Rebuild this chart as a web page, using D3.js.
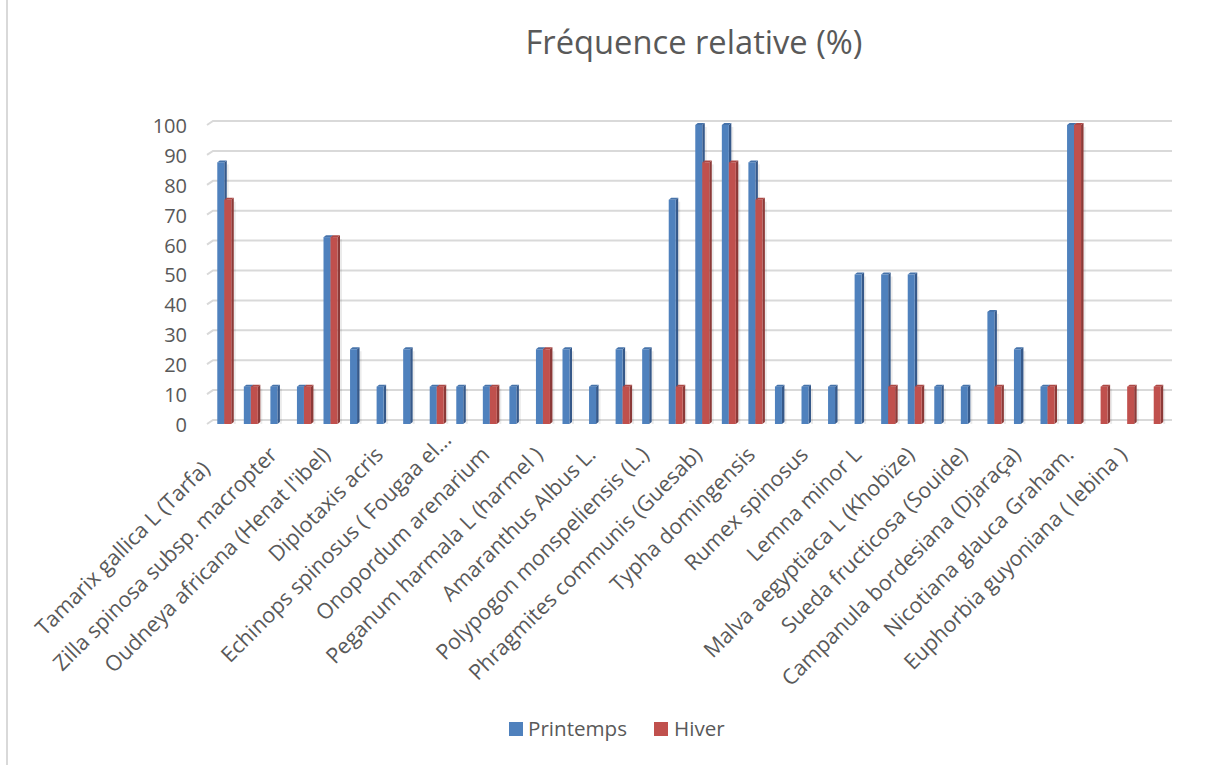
<!DOCTYPE html>
<html>
<head>
<meta charset="utf-8">
<script src="https://cdnjs.cloudflare.com/ajax/libs/d3/7.8.5/d3.min.js"></script>
<style>
  html, body { margin: 0; padding: 0; background: #ffffff; }
  svg { display: block; }
  text { font-family: "Open Sans", "Noto Sans", sans-serif; fill: #595959; }
</style>
</head>
<body>
<svg id="chart" width="1213" height="765"></svg>
<script>
// ---------------- data ----------------
const title = "Fréquence relative (%)";
// 36 categories; Excel shows only every other label (hidden ones are unknown -> empty)
const categories = [
  "Tamarix gallica L (Tarfa)", "",
  "Zilla spinosa subsp. macropter", "",
  "Oudneya africana (Henat l'ibel)", "",
  "Diplotaxis acris", "",
  "Echinops spinosus ( Fougaa el…", "",
  "Onopordum arenarium", "",
  "Peganum harmala L (harmel )", "",
  "Amaranthus Albus L.", "",
  "Polypogon monspeliensis (L.)", "",
  "Phragmites communis (Guesab)", "",
  "Typha domingensis", "",
  "Rumex spinosus", "",
  "Lemna minor L", "",
  "Malva aegyptiaca L (Khobïze)", "",
  "Sueda fructicosa (Souide)", "",
  "Campanula bordesiana (Djaraça)", "",
  "Nicotiana glauca Graham.", "",
  "Euphorbia guyoniana ( lebina )", ""
];
const seriesNames = ["Printemps", "Hiver"];
const printemps = [87.5, 12.5, 12.5, 12.5, 62.5, 25, 12.5, 25, 12.5, 12.5, 12.5, 12.5,
                   25, 25, 12.5, 25, 25, 75, 100, 100, 87.5, 12.5, 12.5, 12.5,
                   50, 50, 50, 12.5, 12.5, 37.5, 25, 12.5, 100, 0, 0, 0];
const hiver     = [75, 12.5, 0, 12.5, 62.5, 0, 0, 0, 12.5, 0, 12.5, 0,
                   25, 0, 0, 12.5, 0, 12.5, 87.5, 87.5, 75, 0, 0, 0,
                   0, 12.5, 12.5, 0, 0, 12.5, 0, 12.5, 100, 12.5, 12.5, 12.5];
const yTicks = [0, 10, 20, 30, 40, 50, 60, 70, 80, 90, 100];

// ---------------- styling ----------------
const colors = {
  Printemps: { front: "#4f81bd", side: "#36598a", top: "#4673aa" },
  Hiver:     { front: "#c0504d", side: "#8c3a38", top: "#ad4845" }
};
const svg = d3.select("#chart");
svg.append("rect").attr("width", 1213).attr("height", 765).attr("fill", "#fff");
// chart-area border (only left edge visible)
svg.append("line").attr("x1", 7).attr("x2", 7).attr("y1", 0).attr("y2", 765)
  .attr("stroke", "#d9d9d9").attr("stroke-width", 2);

const depth = { dx: 6, dy: -4 };       // back-wall offset for gridlines
const barDepth = { dx: 2.5, dy: -2 };  // bar side/top thickness

const x = d3.scaleBand().domain(d3.range(categories.length)).range([211, 1167]).padding(0);
const y = d3.scaleLinear().domain([0, 100]).range([424, 125]);
const plotLeft = 207, plotRight = 1172;

// title
svg.append("text").attr("x", 694).attr("y", 54).attr("text-anchor", "middle")
  .style("font-size", "32.7px").text(title);

// gridlines (3D style: small diagonal + back horizontal line)
const grid = svg.append("g");
yTicks.forEach(t => {
  const yy = y(t);
  grid.append("path")
    .attr("d", `M${plotLeft},${yy} L${plotLeft + depth.dx},${yy + depth.dy} L${plotRight},${yy + depth.dy}`)
    .attr("fill", "none").attr("stroke", "#d9d9d9").attr("stroke-width", 2);
});

// y axis labels via d3 axis
const yAxis = d3.axisLeft(y).tickValues(yTicks).tickSize(0).tickPadding(0);
const yg = svg.append("g").attr("transform", "translate(187,1)").call(yAxis);
yg.select(".domain").remove();
yg.selectAll("text").style("font-size", "20px").attr("fill", "#595959")
  .style("font-family", '"Open Sans", sans-serif');

// bars
const barW = 7;
const series = [
  { name: "Printemps", values: printemps, off: -7 },
  { name: "Hiver", values: hiver, off: 0 }
];
const bars = svg.append("g");
categories.forEach((c, i) => {
  const cx = x(i) + x.bandwidth() / 2;
  series.forEach(s => {
    const v = s.values[i];
    if (!v) return;
    const x0 = cx + s.off, x1 = x0 + barW;
    const yt = y(v), yb = y(0);
    const col = colors[s.name];
    const g = bars.append("g");
    // soft shadow
    g.append("rect").attr("x", x1 + barDepth.dx).attr("y", yt + 2)
      .attr("width", 2).attr("height", yb - yt - 2).attr("fill", "#000").attr("opacity", 0.08);
    // side
    g.append("path").attr("d",
      `M${x1},${yt} L${x1 + barDepth.dx},${yt + barDepth.dy} L${x1 + barDepth.dx},${yb + barDepth.dy} L${x1},${yb} Z`)
      .attr("fill", col.side);
    // top
    g.append("path").attr("d",
      `M${x0},${yt} L${x0 + barDepth.dx},${yt + barDepth.dy} L${x1 + barDepth.dx},${yt + barDepth.dy} L${x1},${yt} Z`)
      .attr("fill", col.top);
    // front
    g.append("rect").attr("x", x0).attr("y", yt).attr("width", barW).attr("height", yb - yt)
      .attr("fill", col.front);
  });
});

// category labels (rotated -45°, every other one)
const labelNudge = { 0: -20, 8: 21 };  // along-text shifts seen in the original layout
const xl = svg.append("g");
categories.forEach((c, i) => {
  if (!c) return;
  const cx = x(i) + x.bandwidth() / 2;
  const n = labelNudge[i] || 0;
  const px = cx + 1 + n * Math.SQRT1_2, py = 456 - n * Math.SQRT1_2;
  xl.append("text")
    .attr("transform", `translate(${px},${py}) rotate(-45)`)
    .attr("text-anchor", "end")
    .style("font-size", "21.5px")
    .text(c);
});

// legend
const legend = svg.append("g");
const legendItems = [
  { name: seriesNames[0], sx: 509, tx: 528 },
  { name: seriesNames[1], sx: 654, tx: 674 }
];
legendItems.forEach(d => {
  legend.append("rect").attr("x", d.sx).attr("y", 722).attr("width", 14).attr("height", 14)
    .attr("fill", colors[d.name].front);
  legend.append("text").attr("x", d.tx).attr("y", 736).style("font-size", "20.6px").text(d.name);
});
</script>
</body>
</html>
